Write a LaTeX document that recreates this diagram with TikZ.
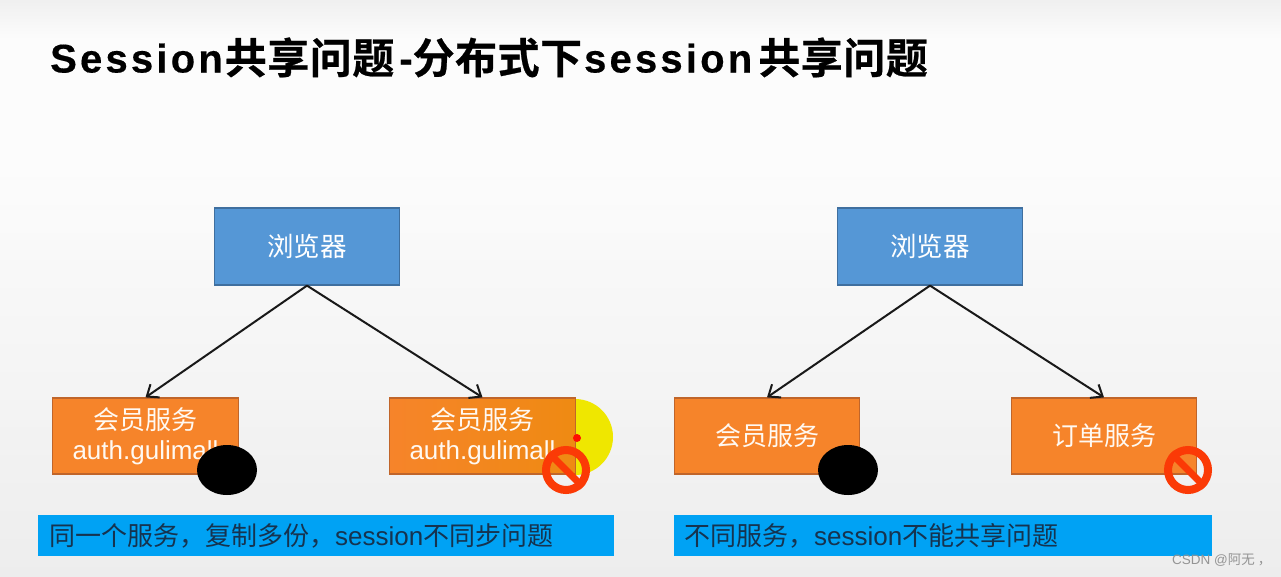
\documentclass[tikz,border=0pt]{standalone}
\usepackage{fontspec}
\usetikzlibrary{arrows.meta,shapes.geometric}
\setmainfont{Liberation Sans}
\newfontfamily\cjk{Noto Sans CJK SC}
\newfontfamily\cjktitle[UprightFont={* Bold},FakeBold=0.6,LetterSpace=1.2]{Noto Sans CJK SC}
\newfontfamily\lattitle[UprightFont={* Bold},FakeBold=0.4,LetterSpace=8]{Liberation Sans}
\definecolor{bluebox}{HTML}{5597D6}
\definecolor{blueline}{HTML}{3F6F9F}
\definecolor{orangebox}{HTML}{F6842A}
\definecolor{orangeright}{HTML}{EF8A12}
\definecolor{orangeline}{HTML}{C0652A}
\definecolor{barblue}{HTML}{00A2F4}
\definecolor{bartext}{HTML}{16334F}
\definecolor{ringred}{HTML}{FB3A06}
\definecolor{glow}{HTML}{EFE700}
\tikzset{
 bluenode/.style={draw=blueline,line width=1.2pt,fill=bluebox,text=white,minimum width=185pt,minimum height=77pt,inner sep=0pt,font=\fontsize{26.5}{28}\selectfont\cjk},
 svcnode/.style={draw=orangeline,line width=1.2pt,fill=orangebox,text=white!95!orange,minimum width=185.5pt,minimum height=76pt,inner sep=0pt,align=center,font=\fontsize{26}{30}\selectfont},
 link/.style={draw=black!90,line width=2pt,-{Straight Barb[length=10pt,width=16pt,line width=2pt]}},
 blobnode/.style={ellipse,fill=black,minimum width=60pt,minimum height=50pt,inner sep=0pt},
 ringnode/.style={circle,draw=ringred,line width=8pt,minimum size=40pt,inner sep=0pt},
 bartextnode/.style={anchor=base west,inner sep=0pt,text=bartext,font=\fontsize{26}{28}\selectfont}
}
\newcommand{\zh}[1]{{\cjk #1}}
\newcommand{\tzh}[1]{\raisebox{-1pt}{\fontsize{42}{44}\selectfont\cjktitle #1}}
\newcommand{\tlat}[1]{{\fontsize{40}{44}\selectfont\lattitle #1}}
\newcommand{\nosign}[2]{%
  \node[ringnode] (#2) at (#1) {};
  \draw[draw=ringred,line width=7pt] (#2.north west) -- (#2.south east);
}
\begin{document}
\begin{tikzpicture}[x=1pt,y=-1pt]
\useasboundingbox (0,0) rectangle (1281,576);
\fill[top color=black!6,bottom color=white!99!black] (0,0) rectangle (1281,40);
\fill[white!99!black] (0,40) rectangle (1281,150);
\fill[top color=white!99!black,bottom color=black!7] (0,150) rectangle (1281,576);
% title
\node[anchor=base west,inner sep=0pt] (title) at (50,72.5)
  {\tlat{Session}\kern2pt\tzh{共享问题}\kern5pt\tlat{-}\tzh{分布式下}\kern2pt\tlat{session}\kern6pt\tzh{共享问题}};
% highlight behind the second box
\fill[glow] (575,437) circle (38pt);
% boxes
\node[bluenode] (b1) at (307,246.5) {浏览器};
\node[bluenode] (b2) at (930,246.5) {浏览器};
\node[svcnode] (s1) at (145.5,436) {\zh{会员服务}\\auth.gulimall};
\node[svcnode,left color=orangebox,right color=orangeright] (s2) at (482.5,436) {\zh{会员服务}\\auth.gulimall};
\node[svcnode] (s3) at (767,436) {\zh{会员服务}};
\node[svcnode] (s4) at (1104,436) {\zh{订单服务}};
% connectors
\draw[link] (b1.south) -- (s1.north);
\draw[link] (b1.south) -- (s2.north);
\draw[link] (b2.south) -- (s3.north);
\draw[link] (b2.south) -- (s4.north);
% marks
\node[blobnode] (e1) at (227,470) {};
\node[blobnode] (e2) at (848,470) {};
\fill[red!90!orange] (577,438) circle (4pt);
\nosign{566,470}{n1}
\nosign{1188,470}{n2}
% bars
\fill[barblue] (38,515) rectangle (614,556);
\fill[barblue] (674,515) rectangle (1212,556);
\node[bartextnode] (t1) at (49,545) {\zh{同一个服务，复制多份，}session\zh{不同步问题}};
\node[bartextnode] (t2) at (684,545) {\zh{不同服务，}session\zh{不能共享问题}};
% watermark
\node[anchor=base west,inner sep=0pt,text=black!42,font=\fontsize{13.5}{15}\selectfont] (w) at (1172,564) {CSDN @\zh{阿无 ，}};
\end{tikzpicture}
\end{document}
